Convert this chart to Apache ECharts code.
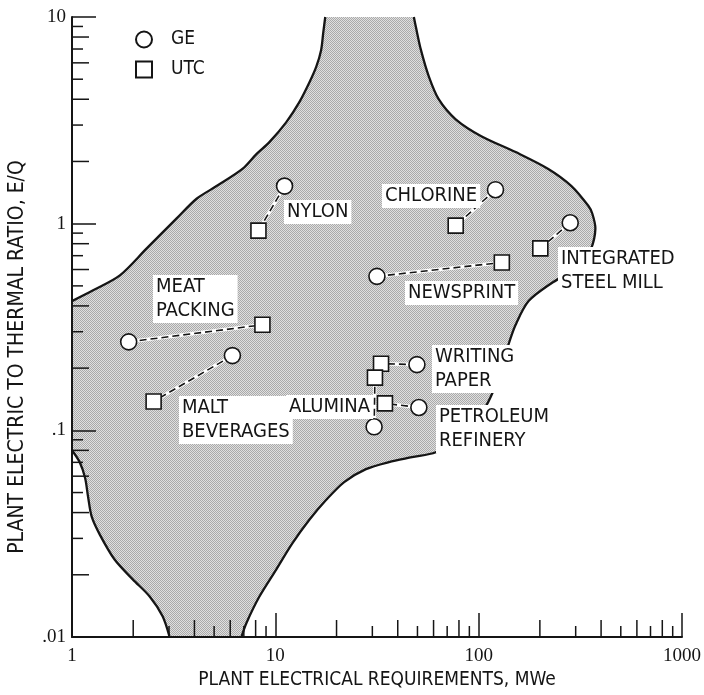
<!DOCTYPE html>
<html>
<head>
<meta charset="utf-8">
<script src="https://cdn.jsdelivr.net/npm/echarts@6/dist/echarts.min.js"></script>
<style>
  html, body { margin: 0; padding: 0; background: #fff; }
  #chart { width: 704px; height: 695px; }
</style>
</head>
<body>
<div id="chart"></div>
<script>
// plant pairs: GE point and UTC point for each industry
const plants = ['NYLON', 'CHLORINE', 'INTEGRATED STEEL MILL', 'NEWSPRINT', 'MEAT PACKING',
  'MALT BEVERAGES', 'WRITING PAPER', 'ALUMINA', 'PETROLEUM REFINERY']
const geMWe = [11.1, 121, 282, 31.6, 1.90, 6.15, 49.7, 30.6, 50.8]
const geRatio = [1.52, 1.46, 1.01, 0.556, 0.268, 0.230, 0.208, 0.104, 0.129]
const utcMWe = [8.26, 77.1, 201, 130, 8.64, 2.52, 33.1, 30.9, 34.6]
const utcRatio = [0.925, 0.978, 0.759, 0.649, 0.324, 0.138, 0.210, 0.180, 0.135]

// shaded region outline (MWe, E/Q)
const upperLeftX = [17.6, 17.2, 16.8, 15.9, 14.7, 13.1, 11.3, 9.35, 8.07, 6.89, 5.14, 4.10, 3.27, 2.33, 1.72, 1.27, 1]
const upperLeftY = [10, 8.38, 6.93, 5.75, 4.82, 3.86, 3.09, 2.48, 2.17, 1.84, 1.52, 1.32, 1.06, 0.759, 0.562, 0.476, 0.422]
const lowerLeftX = [1, 1.09, 1.16, 1.20, 1.25, 1.37, 1.62, 1.99, 2.41, 2.79, 3.02]
const lowerLeftY = [0.0801, 0.0702, 0.0588, 0.0476, 0.0382, 0.0313, 0.0237, 0.0190, 0.0157, 0.0126, 0.01]
const rightX = [6.81, 7.21, 8.35, 10.1, 12.1, 14.7, 17.8, 21.8, 27.9, 36.2, 47.0, 61.5, 75.4, 91.3, 106, 117,
  130, 140, 152, 176, 228, 276, 327, 358, 375, 362, 346, 286, 220, 152, 103, 77.1, 63.7, 56.9, 52.0, 49.1, 48.0]
const rightY = [0.01, 0.0117, 0.0157, 0.0212, 0.0283, 0.0369, 0.0461, 0.0562, 0.0649, 0.0702, 0.0741, 0.0783,
  0.0896, 0.106, 0.126, 0.152, 0.201, 0.259, 0.324, 0.422, 0.515, 0.575, 0.656, 0.759, 0.946, 1.12, 1.22,
  1.52, 1.84, 2.22, 2.65, 3.20, 3.99, 5.15, 6.93, 8.96, 10]

// axis ticks
const xTickLabels = ['1', '10', '100', '1000']
const yTickLabels = ['.01', '.1', '1', '10']
const xDecades = [1, 10, 100]
const yDecades = [0.01, 0.1, 1]
const minorDigits = [2, 3, 4, 5, 6, 7, 8, 9]

const SANS = '"Liberation Sans Narrow", "DejaVu Sans Condensed", sans-serif'
const SERIF = '"Liberation Serif", "DejaVu Serif", serif'
const INK = '#151515'

const tile = document.createElement('canvas')
tile.width = 2
tile.height = 2
const tctx = tile.getContext('2d')
tctx.fillStyle = '#e0e0e0'
tctx.fillRect(0, 0, 2, 2)
tctx.fillStyle = '#aaaaaa'
tctx.fillRect(0, 0, 1, 1)
tctx.fillRect(1, 1, 1, 1)
const stipple = { image: tile, repeat: 'repeat' }

const chart = echarts.init(document.getElementById('chart'))

const renderRegion = (params, api) => {
  const pts = (xs, ys) => xs.map((x, i) => api.coord([x, ys[i]]))
  const up = pts(upperLeftX, upperLeftY)
  const lo = pts(lowerLeftX, lowerLeftY)
  const rt = pts(rightX, rightY)
  const edge = { stroke: INK, lineWidth: 2.3, fill: null }
  return {
    type: 'group',
    children: [
      { type: 'polygon', shape: { points: up.concat(lo, rt) }, style: { fill: stipple } },
      { type: 'polyline', shape: { points: up, smooth: 0.3 }, style: edge },
      { type: 'polyline', shape: { points: lo, smooth: 0.3 }, style: edge },
      { type: 'polyline', shape: { points: rt, smooth: 0.3 }, style: edge }
    ]
  }
}

const renderPair = (params, api) => {
  const a = api.coord([api.value(0), api.value(1)])
  const b = api.coord([api.value(2), api.value(3)])
  const shape = { x1: a[0], y1: a[1], x2: b[0], y2: b[1] }
  return {
    type: 'group',
    children: [
      { type: 'line', shape, style: { stroke: '#fff', lineWidth: 3.5 } },
      { type: 'line', shape, style: { stroke: INK, lineWidth: 1.6, lineDash: [7, 4] } }
    ]
  }
}

const renderMinorTicks = (params, api) => {
  const children = []
  xDecades.forEach(d => {
    minorDigits.forEach(k => {
      const p = api.coord([d * k, 0.01])
      const len = k % 2 === 0 ? 17 : 11
      children.push({ type: 'line', shape: { x1: p[0], y1: p[1], x2: p[0], y2: p[1] - len }, style: { stroke: INK, lineWidth: 1.5 } })
    })
  })
  yDecades.forEach(d => {
    minorDigits.forEach(k => {
      const p = api.coord([1, d * k])
      const len = k % 2 === 0 ? 17 : 11
      children.push({ type: 'line', shape: { x1: p[0], y1: p[1], x2: p[0] + len, y2: p[1] }, style: { stroke: INK, lineWidth: 1.5 } })
    })
  })
  return { type: 'group', children }
}

const labelStyle = (text) => ({
  text,
  fill: INK,
  fontFamily: SANS,
  fontSize: 20,
  lineHeight: 24,
  backgroundColor: '#fff',
  padding: [0, 3, 0, 3],
  align: 'left',
  verticalAlign: 'top'
})

// label text with line breaks, placed by pixel
const labelText = ['NYLON', 'CHLORINE', 'INTEGRATED\nSTEEL MILL', 'NEWSPRINT', 'MEAT\nPACKING',
  'MALT\nBEVERAGES', 'WRITING\nPAPER', 'ALUMINA', 'PETROLEUM\nREFINERY']
const labelAt = [[284, 200], [382, 184], [558, 247], [405, 281], [153, 275], [179, 396], [432, 345], [286, 395], [436, 405]]

chart.setOption({
  animation: false,
  backgroundColor: '#fff',
  grid: { left: 72, right: 20, top: 17, bottom: 54 },
  legend: {
    data: [{ name: 'GE', icon: 'circle' }, { name: 'UTC', icon: 'rect' }],
    orient: 'vertical',
    left: 135,
    top: 30,
    padding: 0,
    itemWidth: 16,
    itemHeight: 16,
    itemGap: 11,
    textStyle: { fontFamily: SANS, fontSize: 19, color: INK, padding: [0, 0, 0, 14] }
  },
  xAxis: {
    type: 'log',
    logBase: 10,
    min: 1,
    max: 1000,
    z: 5,
    axisLine: { lineStyle: { color: INK, width: 2 } },
    axisTick: { inside: true, length: 24, lineStyle: { color: INK, width: 1.5 } },
    axisLabel: {
      margin: 10,
      fontFamily: SERIF,
      fontSize: 19,
      color: INK,
      formatter: v => xTickLabels[Math.round(Math.log10(v))]
    },
    splitLine: { show: false },
    name: 'PLANT ELECTRICAL REQUIREMENTS, MWe',
    nameLocation: 'middle',
    nameGap: 34,
    nameTextStyle: { fontFamily: SANS, fontSize: 19, color: INK }
  },
  yAxis: {
    type: 'log',
    logBase: 10,
    min: 0.01,
    max: 10,
    z: 5,
    axisLine: { show: true, lineStyle: { color: INK, width: 2 } },
    axisTick: { inside: true, length: 24, lineStyle: { color: INK, width: 1.5 } },
    axisLabel: {
      margin: 6,
      fontFamily: SERIF,
      fontSize: 19,
      color: INK,
      formatter: v => yTickLabels[Math.round(Math.log10(v)) + 2]
    },
    splitLine: { show: false }
  },
  graphic: [
    {
      type: 'text',
      x: 18,
      y: 357,
      rotation: Math.PI / 2,
      z: 10,
      style: { text: 'PLANT ELECTRIC TO THERMAL RATIO, E/Q', fill: INK, fontFamily: SANS, fontSize: 21, align: 'center', verticalAlign: 'middle' }
    }
  ].concat(labelText.map((t, i) => ({
    type: 'text',
    x: labelAt[i][0],
    y: labelAt[i][1],
    z: 10,
    style: labelStyle(t)
  }))),
  series: [
    {
      type: 'custom',
      name: 'region',
      renderItem: renderRegion,
      data: [[1, 1]],
      z: 1,
      silent: true
    },
    {
      type: 'custom',
      name: 'ticks',
      renderItem: renderMinorTicks,
      data: [[1, 1]],
      z: 6,
      silent: true
    },
    {
      type: 'custom',
      name: 'pairs',
      renderItem: renderPair,
      encode: { x: [0, 2], y: [1, 3] },
      data: plants.map((p, i) => [geMWe[i], geRatio[i], utcMWe[i], utcRatio[i]]),
      z: 3,
      silent: true
    },
    {
      type: 'scatter',
      name: 'GE',
      symbol: 'circle',
      symbolSize: 16,
      itemStyle: { color: '#fff', borderColor: INK, borderWidth: 1.6, opacity: 1 },
      data: geMWe.map((x, i) => [x, geRatio[i]]),
      z: 4
    },
    {
      type: 'scatter',
      name: 'UTC',
      symbol: 'rect',
      symbolSize: 15,
      itemStyle: { color: '#fff', borderColor: INK, borderWidth: 1.6, opacity: 1 },
      data: utcMWe.map((x, i) => [x, utcRatio[i]]),
      z: 4
    }
  ]
})
</script>
</body>
</html>
